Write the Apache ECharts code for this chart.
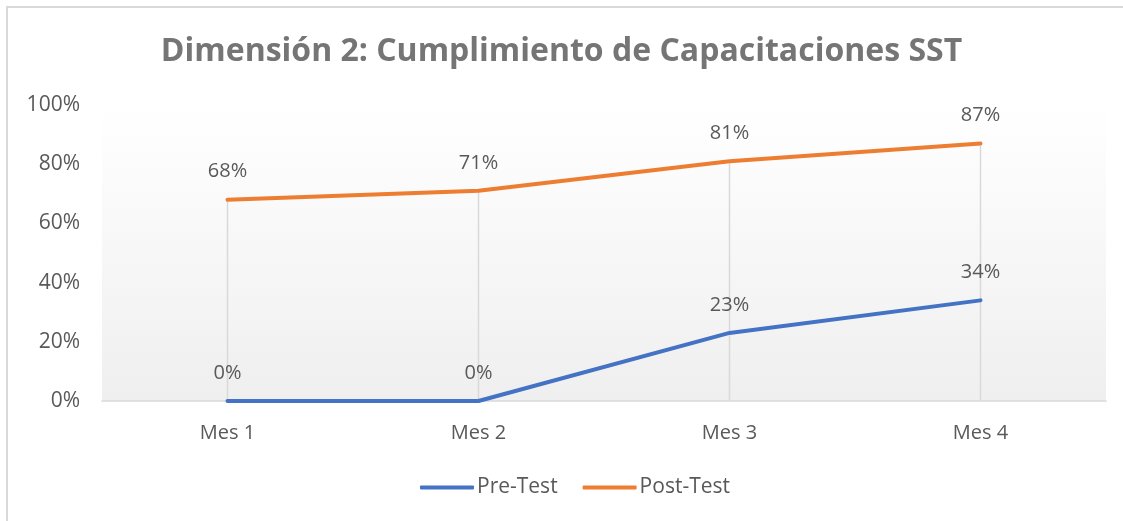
<!DOCTYPE html>
<html>
<head>
<meta charset="utf-8">
<script src="https://cdn.jsdelivr.net/npm/echarts@6/dist/echarts.min.js"></script>
<style>
  html, body { margin: 0; padding: 0; background: #fff; }
  #chart { width: 1123px; height: 521px; }
</style>
</head>
<body>
<div id="chart"></div>
<script>
// données du graphique
const categories = ["Mes 1", "Mes 2", "Mes 3", "Mes 4"];
const preTest = [0, 0, 23, 34];
const postTest = [68, 71, 81, 87];
const yTicks = [0, 20, 40, 60, 80, 100];

const textColor = "#595959";
const fontFamily = "'Open Sans', 'Noto Sans', sans-serif";

const chart = echarts.init(document.getElementById("chart"));

// étiquette de valeur au-dessus des points
const valueLabel = {
  show: true,
  position: "top",
  distance: 18,
  formatter: "{c}%",
  fontFamily: fontFamily,
  fontSize: 20,
  color: textColor,
};

const option = {
  backgroundColor: "#ffffff",
  animation: false,
  title: {
    text: "Dimensión 2: Cumplimiento de Capacitaciones SST",
    left: "center",
    top: 31,
    textStyle: {
      fontFamily: fontFamily,
      fontSize: 32,
      fontWeight: "bold",
      color: "#757575",
    },
  },
  legend: {
    bottom: 18,
    left: 415,
    itemWidth: 54,
    itemHeight: 4,
    itemGap: 25,
    data: [
      { name: "Pre-Test", icon: "roundRect" },
      { name: "Post-Test", icon: "roundRect" },
    ],
    textStyle: { fontFamily: fontFamily, fontSize: 21, color: textColor, padding: [0, 0, 0, -2] },
  },
  grid: {
    left: 102,
    right: 17,
    top: 105,
    bottom: 120,
    show: true,
    borderWidth: 0,
    backgroundColor: new echarts.graphic.LinearGradient(0, 0, 0, 1, [
      { offset: 0, color: "#ffffff" },
      { offset: 0.13, color: "#fdfdfd" },
      { offset: 1, color: "#efefef" },
    ]),
  },
  xAxis: {
    type: "category",
    data: categories,
    boundaryGap: true,
    axisLine: { lineStyle: { color: "#d9d9d9", width: 1.5 } },
    axisTick: { show: false },
    axisLabel: { fontFamily: fontFamily, fontSize: 20, color: textColor, margin: 22 },
  },
  yAxis: {
    type: "value",
    min: yTicks[0],
    max: yTicks[yTicks.length - 1],
    interval: yTicks[1] - yTicks[0],
    axisLine: { show: false },
    axisTick: { show: false },
    splitLine: { show: false },
    axisLabel: {
      fontFamily: fontFamily,
      fontSize: 21,
      color: textColor,
      margin: 22,
      formatter: "{value}%",
    },
  },
  graphic: [
    {
      type: "polyline",
      silent: true,
      shape: { points: [[7, 521], [7, 7], [1123, 7]] },
      style: { stroke: "#d9d9d9", lineWidth: 2, fill: null },
    },
  ],
  series: [
    {
      // lignes de rappel vers l'axe
      name: "drop",
      type: "bar",
      data: postTest,
      barWidth: 1.5,
      silent: true,
      itemStyle: { color: "#d9d9d9" },
      z: 1,
    },
    {
      name: "Pre-Test",
      type: "line",
      data: preTest,
      symbol: "circle",
      symbolSize: 0,
      lineStyle: { color: "#4472C4", width: 4, cap: "round" },
      itemStyle: { color: "#4472C4" },
      label: valueLabel,
      z: 3,
    },
    {
      name: "Post-Test",
      type: "line",
      data: postTest,
      symbol: "circle",
      symbolSize: 0,
      lineStyle: { color: "#ED7D31", width: 4, cap: "round" },
      itemStyle: { color: "#ED7D31" },
      label: valueLabel,
      z: 3,
    },
  ],
};

chart.setOption(option);
</script>
</body>
</html>
